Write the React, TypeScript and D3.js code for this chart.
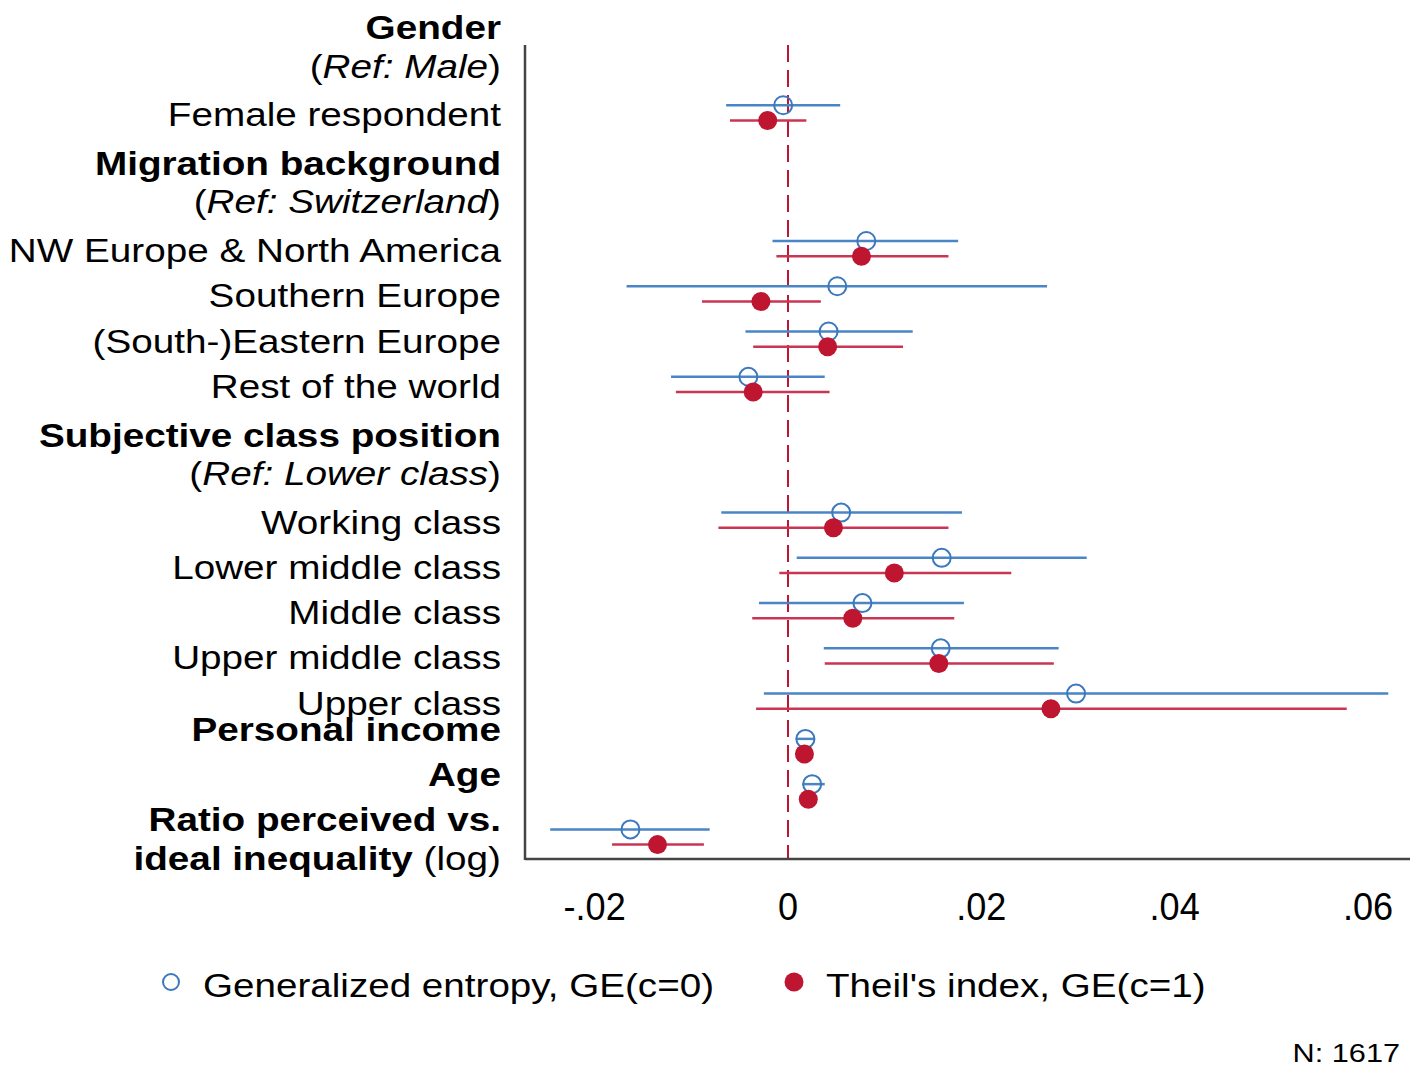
import React from "react";
import * as d3 from "d3";

// row layout (19 slots top to bottom)
const rowCount = 19;

// estimated terms and their row slot
const terms = [
    "Female respondent",
    "NW Europe & North America",
    "Southern Europe",
    "(South-)Eastern Europe",
    "Rest of the world",
    "Working class",
    "Lower middle class",
    "Middle class",
    "Upper middle class",
    "Upper class",
    "Personal income",
    "Age",
    "Ratio perceived vs. ideal inequality (log)",
];
const termRows = [2, 5, 6, 7, 8, 11, 12, 13, 14, 15, 16, 17, 18];

// GE(c=0)
const ge0 = [-0.0005, 0.0081, 0.0051, 0.0042, -0.0041, 0.0055, 0.0159, 0.0077, 0.0158, 0.0298, 0.0018, 0.0025, -0.0163];
const ge0Lo = [-0.0064, -0.0016, -0.0167, -0.0044, -0.0121, -0.0069, 0.0009, -0.0030, 0.0037, -0.0025, 0.0008, 0.0015, -0.0246];
const ge0Hi = [0.0054, 0.0176, 0.0268, 0.0129, 0.0038, 0.0180, 0.0309, 0.0182, 0.0280, 0.0621, 0.0028, 0.0038, -0.0081];

// GE(c=1), Theil
const ge1 = [-0.0021, 0.0076, -0.0028, 0.0041, -0.0036, 0.0047, 0.0110, 0.0067, 0.0156, 0.0272, 0.0017, 0.0021, -0.0135];
const ge1Lo = [-0.0060, -0.0012, -0.0089, -0.0036, -0.0116, -0.0072, -0.0009, -0.0037, 0.0038, -0.0033, 0.0014, 0.0017, -0.0182];
const ge1Hi = [0.0019, 0.0166, 0.0034, 0.0119, 0.0043, 0.0166, 0.0231, 0.0172, 0.0275, 0.0578, 0.0020, 0.0025, -0.0087];

const xTicks = [-0.02, 0, 0.02, 0.04, 0.06];
const xTickLabels = ["-.02", "0", ".02", ".04", ".06"];

type seg = { t: string, w?: "b" | "i" };
type label = { rows: number[], lines: seg[][] };

const labels: label[] = [
    { rows: [0, 1], lines: [[{ t: "Gender", w: "b" }], [{ t: "(" }, { t: "Ref: Male", w: "i" }, { t: ")" }]] },
    { rows: [2], lines: [[{ t: "Female respondent" }]] },
    { rows: [3, 4], lines: [[{ t: "Migration background", w: "b" }], [{ t: "(" }, { t: "Ref: Switzerland", w: "i" }, { t: ")" }]] },
    { rows: [5], lines: [[{ t: "NW Europe & North America" }]] },
    { rows: [6], lines: [[{ t: "Southern Europe" }]] },
    { rows: [7], lines: [[{ t: "(South-)Eastern Europe" }]] },
    { rows: [8], lines: [[{ t: "Rest of the world" }]] },
    { rows: [9, 10], lines: [[{ t: "Subjective class position", w: "b" }], [{ t: "(" }, { t: "Ref: Lower class", w: "i" }, { t: ")" }]] },
    { rows: [11], lines: [[{ t: "Working class" }]] },
    { rows: [12], lines: [[{ t: "Lower middle class" }]] },
    { rows: [13], lines: [[{ t: "Middle class" }]] },
    { rows: [14], lines: [[{ t: "Upper middle class" }]] },
    { rows: [15], lines: [[{ t: "Upper class" }]] },
    { rows: [16], lines: [[{ t: "Personal income", w: "b" }], []] },
    { rows: [17], lines: [[{ t: "Age", w: "b" }], []] },
    { rows: [18], lines: [[{ t: "Ratio perceived vs.", w: "b" }], [{ t: "ideal inequality", w: "b" }, { t: " (log)" }]] },
];

const blue = "#3b78bd";
const blueCI = "#4a86c6";
const red = "#be1530";
const redCI = "#c93552";
const font = "'Liberation Sans', Arial, sans-serif";

const W = 1417, H = 1078;
const plotL = 525, plotR = 1410, plotT = 45, plotB = 859;

export default function App() {
    const x = d3.scaleLinear().domain([0, 0.06]).range([788, 1368]);
    const y = d3.scalePoint<number>().domain(d3.range(rowCount)).range([22.3, 837]);
    const off = 7.6;
    const lineGap = 38.5;

    const series = [
        { est: ge0, lo: ge0Lo, hi: ge0Hi, dy: -off, ci: blueCI, filled: false },
        { est: ge1, lo: ge1Lo, hi: ge1Hi, dy: off, ci: redCI, filled: true },
    ];

    return (
        <svg width={W} height={H} style={{ position: "absolute", left: 0, top: 0, background: "#fff" }} fontFamily={font}>
            <rect width={W} height={H} fill="#fff" />
            {/* labels */}
            {labels.map((lb, i) => {
                const c = d3.mean(lb.rows.map(r => y(r) as number)) as number
                const n = lb.lines.length
                return lb.lines.map((ln, k) => {
                    const cy = c + (k - (n - 1) / 2) * lineGap + 1.5
                    return (
                        <text key={i + "-" + k} transform={`translate(501,${cy + 12}) scale(1.19,1)`} textAnchor="end" fontSize={32.5} fill="#000">
                            {ln.map((s, j) => (
                                <tspan key={j} fontWeight={s.w === "b" ? "bold" : "normal"} fontStyle={s.w === "i" ? "italic" : "normal"}>{s.t}</tspan>
                            ))}
                        </text>
                    )
                })
            })}
            {/* zero line */}
            <line x1={x(0)} x2={x(0)} y1={plotT} y2={plotB} stroke={red} strokeWidth={2} strokeDasharray="17 8" />
            {/* CIs */}
            {series.map((s, si) => (
                <g key={"ci" + si}>
                    {terms.map((t, i) => {
                        const yy = (y(termRows[i]) as number) + s.dy
                        return <line key={t} x1={x(s.lo[i])} x2={x(s.hi[i])} y1={yy} y2={yy} stroke={s.ci} strokeWidth={2.5} />
                    })}
                </g>
            ))}
            {/* points */}
            {series.map((s, si) => (
                <g key={"pt" + si}>
                    {terms.map((t, i) => {
                        const yy = (y(termRows[i]) as number) + s.dy
                        return s.filled
                            ? <circle key={t} cx={x(s.est[i])} cy={yy} r={9.5} fill={red} />
                            : <circle key={t} cx={x(s.est[i])} cy={yy} r={9} fill="none" stroke={blue} strokeWidth={2} />
                    })}
                </g>
            ))}
            {/* axes */}
            <line x1={plotL} x2={plotL} y1={plotT} y2={plotB + 1} stroke="#444" strokeWidth={2.5} />
            <line x1={plotL} x2={plotR} y1={plotB} y2={plotB} stroke="#444" strokeWidth={2.5} />
            {xTicks.map((v, i) => (
                <text key={v} transform={`translate(${x(v)},920) scale(0.95,1)`} textAnchor="middle" fontSize={38} fill="#000">{xTickLabels[i]}</text>
            ))}
            {/* legend */}
            <circle cx={171} cy={982} r={8} fill="none" stroke={blue} strokeWidth={2} />
            <text transform="translate(203,997) scale(1.17,1)" fontSize={33} fill="#000">Generalized entropy, GE(c=0)</text>
            <circle cx={794} cy={982} r={9.5} fill={red} />
            <text transform="translate(826,997) scale(1.17,1)" fontSize={33} fill="#000">Theil's index, GE(c=1)</text>
            <text transform="translate(1400,1062) scale(1.18,1)" textAnchor="end" fontSize={26} fill="#000">N: 1617</text>
        </svg>
    )
}
